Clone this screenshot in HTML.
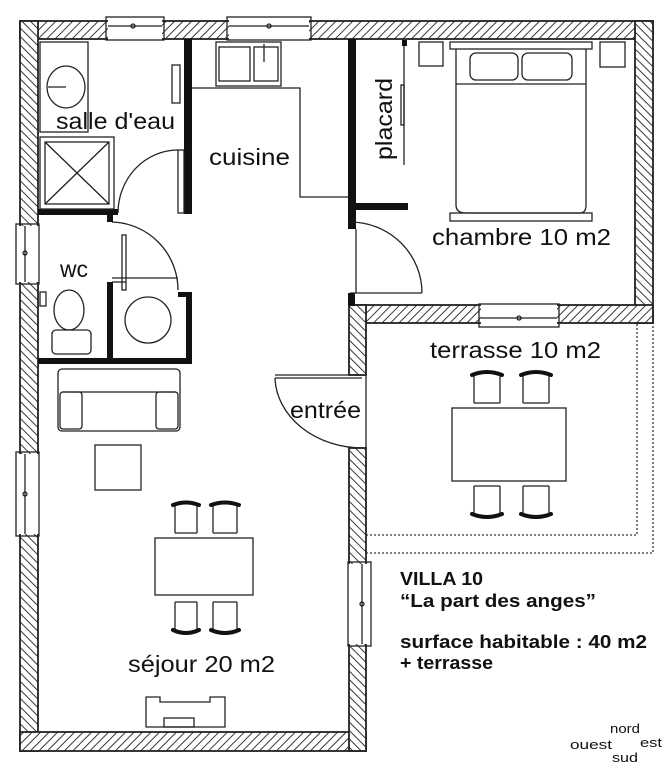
<!DOCTYPE html>
<html><head><meta charset="utf-8"><style>
html,body{margin:0;padding:0;background:#fff;}
svg{display:block;}
text{font-family:"Liberation Sans",sans-serif;fill:#111;}
</style></head><body>
<svg width="668" height="768" viewBox="0 0 668 768" xmlns="http://www.w3.org/2000/svg">
<defs>
<pattern id="h" patternUnits="userSpaceOnUse" width="6" height="6" patternTransform="rotate(45)">
<rect width="6" height="6" fill="#fff"/><line x1="0" y1="0" x2="0" y2="6" stroke="#222" stroke-width="1.8"/>
</pattern>
<pattern id="h2" patternUnits="userSpaceOnUse" width="6" height="6" patternTransform="rotate(-45)">
<rect width="6" height="6" fill="#fff"/><line x1="0" y1="0" x2="0" y2="6" stroke="#222" stroke-width="1.8"/>
</pattern>
</defs>
<g stroke="#222" stroke-width="1.8">
<rect x="20" y="21" width="633" height="18" fill="url(#h)"/>
<rect x="20" y="21" width="18" height="730" fill="url(#h2)"/>
<rect x="20" y="732" width="346" height="19" fill="url(#h)"/>
<rect x="635" y="21" width="18" height="302" fill="url(#h2)"/>
<rect x="350" y="305" width="303" height="18" fill="url(#h)"/>
<rect x="349" y="305" width="17" height="70" fill="url(#h2)"/>
<rect x="349" y="448" width="17" height="303" fill="url(#h2)"/>
</g>
<g fill="#fff" stroke="none">
<rect x="108" y="20" width="54" height="20"/>
<rect x="229" y="20" width="80" height="20"/>
<rect x="19" y="226" width="20" height="56"/>
<rect x="19" y="454" width="20" height="80"/>
<rect x="348" y="564" width="20" height="80"/>
<rect x="481" y="304" width="76" height="20"/>
</g>
<g fill="none" stroke="#222" stroke-width="1.3">
<rect x="106" y="17" width="58" height="23"/><line x1="108" y1="26" x2="162" y2="26"/><circle cx="133" cy="26" r="2"/>
<rect x="227" y="17" width="84" height="23"/><line x1="229" y1="26" x2="309" y2="26"/><circle cx="269" cy="26" r="2"/>
<rect x="16" y="224" width="23" height="60"/><line x1="25" y1="226" x2="25" y2="282"/><circle cx="25" cy="253" r="2"/>
<rect x="16" y="452" width="23" height="84"/><line x1="25" y1="454" x2="25" y2="534"/><circle cx="25" cy="494" r="2"/>
<rect x="348" y="562" width="23" height="84"/><line x1="362" y1="564" x2="362" y2="644"/><circle cx="362" cy="604" r="2"/>
<rect x="479" y="304" width="80" height="23"/><line x1="481" y1="318" x2="557" y2="318"/><circle cx="519" cy="318" r="2"/>
</g>
<g fill="#111">
<rect x="184" y="39" width="8" height="175"/>
<rect x="38" y="209" width="80" height="6"/>
<rect x="107" y="214" width="6" height="8"/>
<rect x="107" y="282" width="6" height="80"/>
<rect x="178" y="292" width="14" height="5"/>
<rect x="186" y="292" width="6" height="72"/>
<rect x="38" y="358" width="154" height="6"/>
<rect x="348" y="39" width="8" height="190"/>
<rect x="356" y="203" width="52" height="7"/>
<rect x="402" y="40" width="5" height="6"/>
<rect x="348" y="293" width="7" height="13"/>
</g>
<g fill="none" stroke="#222" stroke-width="1.3">
<rect x="178" y="150" width="6" height="63"/>
<path d="M118 213 A60 63 0 0 1 178 150"/>
<path d="M112 222 A68 68 0 0 1 178 290"/>
<rect x="122" y="235" width="4" height="55"/>
<line x1="112" y1="282" x2="126" y2="282"/><line x1="112" y1="278" x2="178" y2="278"/>
<path d="M350 222 A72 71 0 0 1 422 293"/>
<line x1="350" y1="293" x2="422" y2="293"/>
<line x1="356" y1="229" x2="356" y2="293"/>
<line x1="404" y1="46" x2="404" y2="165"/>
<rect x="401" y="85" width="3" height="40"/>
<path d="M275 378 A88 72 0 0 0 363 448"/>
<line x1="275" y1="375" x2="362" y2="375"/><line x1="275" y1="378" x2="362" y2="378"/>
<line x1="366" y1="375" x2="366" y2="448"/>
<polyline points="192,88 300,88 300,197 348,197"/>
<rect x="216" y="42" width="65" height="44"/>
<rect x="219" y="47" width="31" height="34"/><rect x="254" y="47" width="24" height="34"/>
<line x1="264" y1="44" x2="264" y2="62"/>
<rect x="172" y="65" width="8" height="38"/>
<rect x="40" y="42" width="48" height="90"/>
<ellipse cx="66" cy="87" rx="19" ry="21"/>
<line x1="48" y1="87" x2="66" y2="87"/>
<rect x="40" y="137" width="74" height="72"/>
<rect x="45" y="142" width="64" height="62"/>
<line x1="45" y1="142" x2="109" y2="204"/><line x1="109" y1="142" x2="45" y2="204"/>
<ellipse cx="69" cy="310" rx="15" ry="20"/>
<rect x="52" y="330" width="39" height="24" rx="4"/>
<rect x="40" y="292" width="6" height="14"/>
<circle cx="148" cy="320" r="23"/>
<rect x="419" y="42" width="24" height="24"/>
<rect x="600" y="42" width="25" height="25"/>
<rect x="450" y="42" width="142" height="7"/>
<path d="M456 49 V205 Q456 213 466 213 H580 Q586 213 586 205 V49"/>
<line x1="456" y1="84" x2="586" y2="84"/>
<rect x="470" y="53" width="48" height="27" rx="6"/>
<rect x="522" y="53" width="50" height="27" rx="6"/>
<rect x="450" y="213" width="142" height="8"/>
<rect x="58" y="369" width="122" height="62" rx="4"/>
<line x1="62" y1="392" x2="176" y2="392"/>
<rect x="60" y="392" width="22" height="37" rx="3"/><rect x="156" y="392" width="22" height="37" rx="3"/>
<rect x="95" y="445" width="46" height="45"/>
<rect x="155" y="538" width="98" height="57"/>
<path d="M175 533 V505 M197 533 V505 M175 533 H197"/><path d="M213 533 V505 M237 533 V505 M213 533 H237"/>
<path d="M175 602 V630 M197 602 V630 M175 602 H197"/><path d="M213 602 V630 M237 602 V630 M213 602 H237"/>
<path d="M146 727 V697 H160 V702 H210 V697 H225 V727 Z"/>
<rect x="164" y="718" width="30" height="9"/>
<rect x="452" y="408" width="114" height="73"/>
<path d="M474 403 V375 M500 403 V375 M474 403 H500"/><path d="M523 403 V375 M549 403 V375 M523 403 H549"/>
<path d="M474 486 V514 M500 486 V514 M474 486 H500"/><path d="M523 486 V514 M549 486 V514 M523 486 H549"/>
</g>
<g stroke="#111" stroke-width="4" fill="none" stroke-linecap="round">
<path d="M173 505 Q186 500 199 505"/><path d="M211 505 Q225 500 239 505"/>
<path d="M173 630 Q186 636 199 630"/><path d="M211 630 Q225 636 239 630"/>
<path d="M472 375 Q487 369 502 375"/><path d="M521 375 Q536 369 551 375"/>
<path d="M472 514 Q487 520 502 514"/><path d="M521 514 Q536 520 551 514"/>
</g>
<g fill="none" stroke="#333" stroke-width="1.3" stroke-dasharray="2,2">
<polyline points="366,535 637,535 637,323"/>
<polyline points="366,553 653,553 653,323"/>
</g>
<g font-size="23">
<text x="56" y="129" textLength="119" lengthAdjust="spacingAndGlyphs">salle d'eau</text>
<text x="209" y="165" textLength="81" lengthAdjust="spacingAndGlyphs">cuisine</text>
<text x="432" y="245" textLength="179" lengthAdjust="spacingAndGlyphs">chambre 10 m2</text>
<text x="60" y="277" textLength="28" lengthAdjust="spacingAndGlyphs">wc</text>
<text x="430" y="358" textLength="171" lengthAdjust="spacingAndGlyphs">terrasse 10 m2</text>
<text x="290" y="418" textLength="71" lengthAdjust="spacingAndGlyphs">entrée</text>
<text x="128" y="672" textLength="147" lengthAdjust="spacingAndGlyphs">séjour 20 m2</text>
<text transform="translate(392,160) rotate(-90)" textLength="82" lengthAdjust="spacingAndGlyphs">placard</text>
</g>
<g font-size="18" font-weight="bold">
<text x="400" y="585" textLength="83" lengthAdjust="spacingAndGlyphs">VILLA 10</text>
<text x="400" y="607" textLength="196" lengthAdjust="spacingAndGlyphs">“La part des anges”</text>
<text x="400" y="648" textLength="247" lengthAdjust="spacingAndGlyphs">surface habitable : 40 m2</text>
<text x="400" y="669" textLength="93" lengthAdjust="spacingAndGlyphs">+ terrasse</text>
</g>
<g font-size="13">
<text x="610" y="733" textLength="30" lengthAdjust="spacingAndGlyphs">nord</text>
<text x="570" y="749" textLength="42" lengthAdjust="spacingAndGlyphs">ouest</text>
<text x="640" y="747" textLength="22" lengthAdjust="spacingAndGlyphs">est</text>
<text x="612" y="762" textLength="26" lengthAdjust="spacingAndGlyphs">sud</text>
</g>
</svg>
</body></html>
